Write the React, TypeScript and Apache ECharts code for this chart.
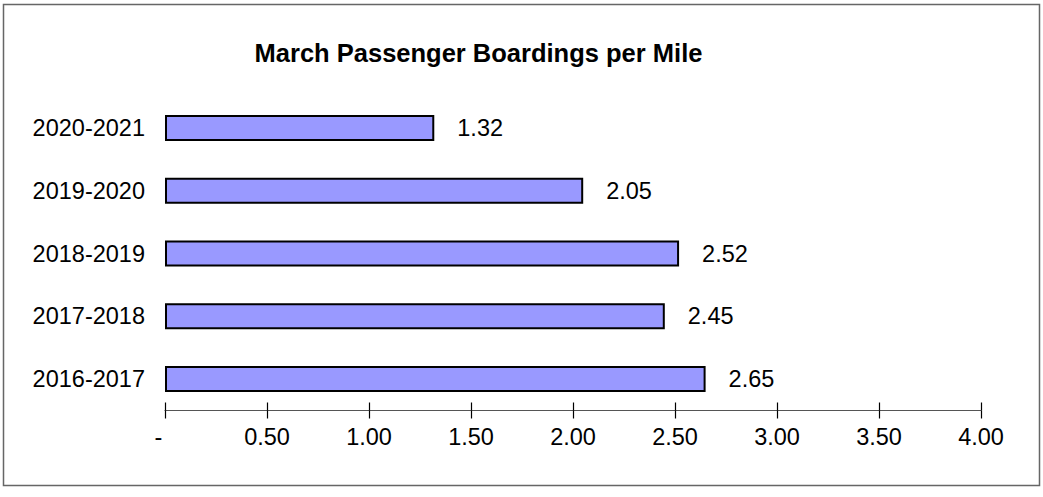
import React, { useEffect, useRef } from "react";
import * as echarts from "echarts";

const categories = ["2020-2021", "2019-2020", "2018-2019", "2017-2018", "2016-2017"];
const values = [1.32, 2.05, 2.52, 2.45, 2.65];
const titleText = "March Passenger Boardings per Mile";

export default function App() {
  const ref = useRef<HTMLDivElement>(null);
  useEffect(() => {
    if (!ref.current) return;
    const chart = echarts.init(ref.current, null, { renderer: "svg" });
    const font = "Liberation Sans, Arial, sans-serif";
    chart.setOption({
      animation: false,
      backgroundColor: "#ffffff",
      title: {
        text: titleText,
        left: 473.5,
        textAlign: "center",
        top: 35,
        textStyle: { fontFamily: font, fontSize: 25.5, fontWeight: "bold", color: "#000" },
      },
      graphic: [
        {
          type: "rect",
          shape: { x: 3.5, y: 4.5, width: 1036, height: 481 },
          style: { fill: "none", stroke: "#666", lineWidth: 1.5 },
          silent: true,
        },
      ],
      grid: { left: 165, right: 62, top: 96.5, bottom: 86.5, containLabel: false },
      xAxis: [
        {
          type: "value",
          min: 0,
          max: 4,
          interval: 0.5,
          axisLine: { show: true, lineStyle: { color: "#555", width: 1.2 } },
          axisTick: { show: true, length: 8, lineStyle: { color: "#000", width: 1.2 } },
          splitLine: { show: false },
          axisLabel: {
            margin: 14,
            fontFamily: font,
            fontSize: 23.5,
            color: "#000",
            formatter: (v: number) => (v === 0 ? "-  " : v.toFixed(2)),
          },
        },
        {
          type: "value",
          min: 0,
          max: 4,
          interval: 0.5,
          position: "bottom",
          axisLine: { show: false },
          axisTick: { show: true, inside: true, length: 8, lineStyle: { color: "#000", width: 1.2 } },
          splitLine: { show: false },
          axisLabel: { show: false },
        },
      ],
      yAxis: {
        type: "category",
        data: categories,
        inverse: true,
        axisLine: { show: false },
        axisTick: { show: false },
        axisLabel: { margin: 20, fontFamily: font, fontSize: 23.5, color: "#000" },
      },
      series: [
        {
          type: "bar",
          data: values,
          barWidth: 26,
          itemStyle: { color: "#9999ff", borderColor: "#000", borderWidth: 2 },
          label: {
            show: true,
            position: "right",
            distance: 23,
            fontFamily: font,
            fontSize: 23.5,
            color: "#000",
            formatter: (p: any) => p.value.toFixed(2),
          },
        },
      ],
    });
    return () => chart.dispose();
  }, []);
  return (
    <div
      ref={ref}
      style={{ position: "fixed", left: 0, top: 0, width: 1043, height: 497 }}
    />
  );
}
